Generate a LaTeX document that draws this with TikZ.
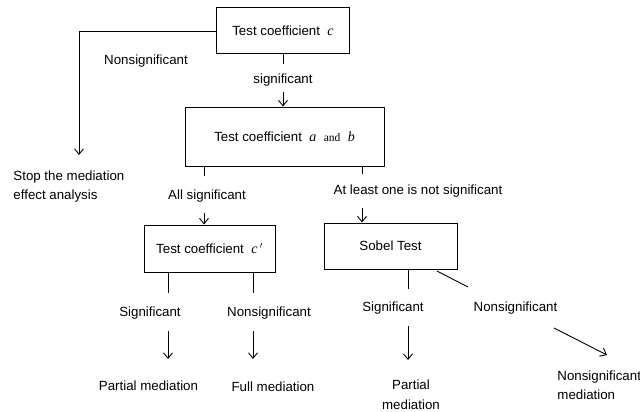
\documentclass[tikz,border=0pt]{standalone}
\usepackage{fontspec}
\setmainfont{Liberation Sans}
\newfontfamily\serifvar{Liberation Serif}
\usepackage{tikz}
\usetikzlibrary{arrows.meta}
\newcommand{\cv}[1]{{\serifvar\fontsize{14}{16}\selectfont\itshape #1}}
\newcommand{\cand}{{\serifvar\fontsize{11.5}{13}\selectfont and}}

\begin{document}
\begin{tikzpicture}[x=1pt, y=-1pt, line width=0.9pt,
	every node/.style={font=\fontsize{13.3}{19.5}\selectfont, inner sep=0pt},
	testbox/.style={draw, line width=1pt, anchor=center},
	arr/.style={-{Straight Barb[length=5.5pt, width=9pt]}}]
			\useasboundingbox (0,0) rectangle (640,412);
			%   %   %   %   %   %   %   %   %   %   %
			%   Test c
				\node[testbox, minimum width=133pt, minimum height=46pt] (c) at (283,31)
				{Test coefficient\ \ \cv{c}};
			%   %   %   %   %   %   %   %   %   %   %
			%   c nonsignificant -> stop
				\node (nonsig0) at (146,61) {Nonsignificant};
				\node[anchor=west, align=left] (stop) at (13,186.5)
				{Stop the mediation\\effect analysis};
				\coordinate (stoptip) at (79,155);
				\draw[arr] (c.west) -| (stoptip);
			%   %   %   %   %   %   %   %   %   %   %
			%   c significant -> a and b
				\node (sig0) at (283,80) {significant};
				\coordinate (cS) at (283,64);
				\coordinate (abN) at (283,92);
				\draw (c.south -| cS) -- (cS);
			%   %   %   %   %   %   %   %   %   %   %
			%   Test a and b
				\node[testbox, minimum width=199pt, minimum height=59pt] (ab) at (284.5,136.5)
				{Test coefficient\ \ \cv{a}\ \ \cand\ \ \cv{b}};
				\draw[arr] (abN) -- (abN |- ab.north);
			%   %   %   %   %   %   %   %   %   %   %
			%   a and b -> c'
				\node (allsig) at (207,196) {All significant};
				\coordinate (abL) at (204,176);
				\coordinate (cpN) at (204,213);
				\draw (ab.south -| abL) -- (abL);
			%   %   %   %   %   %   %   %   %   %   %
			%   a and b -> Sobel
				\node (atleast) at (418,191) {At least one is not significant};
				\coordinate (abR) at (362,174);
				\coordinate (sobelN) at (362,208);
				\draw (ab.south -| abR) -- (abR);
			%   %   %   %   %   %   %   %   %   %   %
			%   Test c'
				\node[testbox, minimum width=131pt, minimum height=47pt] (cp) at (209.5,248.5)
				{Test coefficient\ \ \cv{c}\,$^{\prime}$\hspace{9pt}};
				\draw[arr] (cpN) -- (cpN |- cp.north);
			%   %   %   %   %   %   %   %   %   %   %
			%   Sobel Test
				\node[testbox, minimum width=133pt, minimum height=46pt] (sobel) at (390.5,246)
				{Sobel Test};
				\draw[arr] (sobelN) -- (sobelN |- sobel.north);
			%   %   %   %   %   %   %   %   %   %   %
			%   c' significant -> partial
				\node (sigL) at (150,313) {Significant};
				\node (partL) at (148.5,386) {Partial mediation};
				\coordinate (cpL) at (168,293);
				\coordinate (partLa) at (168,331);
				\coordinate (partLb) at (168,359);
				\draw (cp.south -| cpL) -- (cpL);
				\draw[arr] (partLa) -- (partLb);
			%   %   %   %   %   %   %   %   %   %   %
			%   c' nonsignificant -> full
				\node (nonsigL) at (269,313) {Nonsignificant};
				\node (full) at (273,387) {Full mediation};
				\coordinate (cpR) at (253,293);
				\coordinate (fullA) at (253,331);
				\coordinate (fullB) at (253,359);
				\draw (cp.south -| cpR) -- (cpR);
				\draw[arr] (fullA) -- (fullB);
			%   %   %   %   %   %   %   %   %   %   %
			%   Sobel significant -> partial
				\node (sigR) at (393,308) {Significant};
				\node[align=center] (partR) at (411,394.5) {Partial\\mediation};
				\coordinate (sobL) at (408,289);
				\coordinate (partRa) at (408,326);
				\coordinate (partRb) at (408,360);
				\draw (sobel.south -| sobL) -- (sobL);
				\draw[arr] (partRa) -- (partRb);
			%   %   %   %   %   %   %   %   %   %   %
			%   Sobel nonsignificant -> nonsignificant mediation
				\node (nonsigR) at (515.5,308) {Nonsignificant};
				\node[anchor=west, align=left] (nonmed) at (557,385)
				{Nonsignificant\\mediation};
				\coordinate (sobD1) at (437,271);
				\coordinate (sobD2) at (468,287);
				\coordinate (nonmedA) at (554,328);
				\coordinate (nonmedB) at (607,355);
				\draw (sobD1) -- (sobD2);
				\draw[arr] (nonmedA) -- (nonmedB);
		\end{tikzpicture}
\end{document}
